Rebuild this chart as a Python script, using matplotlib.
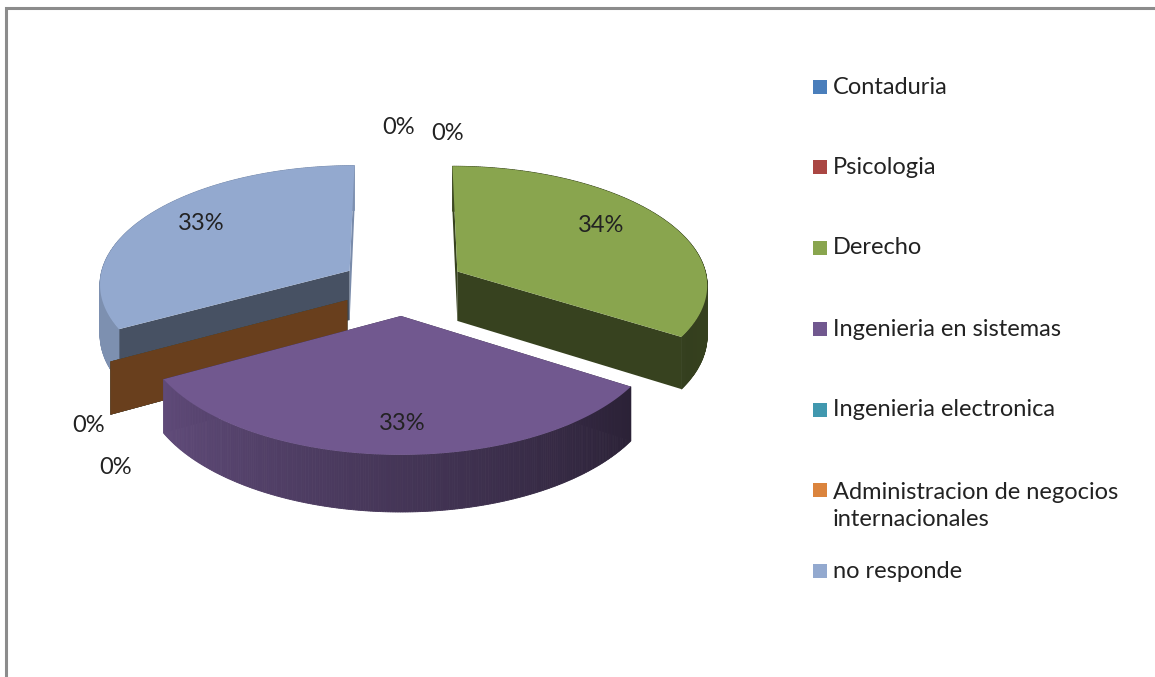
import numpy as np
import matplotlib
matplotlib.use("Agg")
import matplotlib.pyplot as plt
from matplotlib.colors import to_rgb

categories = ['Contaduria', 'Psicologia', 'Derecho', 'Ingenieria en sistemas',
              'Ingenieria electronica', 'Administracion de negocios\ninternacionales',
              'no responde']
values = [0, 0, 34, 33, 0, 0, 33]
colors = ['#4a7ebb', '#aa4643', '#89a54e', '#71588f', '#4198af', '#db843d', '#93a9cf']
wall_shade = [0.48, 0.48, 0.40, 0.40, 0.48, 0.48, 0.48]

# 3d look of the pie, fitted by eye
vx, vy = 403, 285.6
R, A, q = 251, 118.5, 0.10
explode = 0.25
depth = 50


def project(X, Y, low=False):
    s = 1 / (1 + q * Y)
    px = vx + R * X * s
    py = vy - A * Y * s
    if low:
        py = py + depth * s
    return px, py


fig = plt.figure(figsize=(11.55, 6.77), dpi=100)
ax = fig.add_axes([0, 0, 1, 1])
ax.set_xlim(0, 1155)
ax.set_ylim(677, 0)
ax.axis('off')
plt.rcParams['font.family'] = ['Lato', 'DejaVu Sans']

# frame of the pasted chart
ax.plot([6, 6, 1155], [677, 8, 8], color='#8c8c8c', lw=2.2, solid_joinstyle='miter')

angles = np.cumsum([0] + values) / sum(values) * 360
# outer wall shade at slice start and end
side_shade = {2: (0.45, 0.38), 3: (0.38, 0.85), 6: (0.85, 0.85)}
order = [6, 0, 1, 2, 4, 5, 3]
end_wall = {6: 0.82}

for i in order:
    a, b = np.radians(angles[i]), np.radians(angles[i + 1])
    mid = (a + b) / 2
    X0, Y0 = explode * np.sin(mid), explode * np.cos(mid)
    base = np.array(to_rgb(colors[i]))

    # the two cut faces
    for t, f in ((a, wall_shade[i]), (b, end_wall.get(i, wall_shade[i]))):
        X1, Y1 = X0 + np.sin(t), Y0 + np.cos(t)
        p1 = project(X0, Y0)
        p2 = project(X1, Y1)
        p3 = project(X1, Y1, True)
        p4 = project(X0, Y0, True)
        ax.fill([p1[0], p2[0], p3[0], p4[0]], [p1[1], p2[1], p3[1], p4[1]],
                color=base * f, lw=0)

    if values[i] == 0:
        continue

    # rim, cut in strips for the gradient
    th = np.linspace(a, b, 240)
    Xr, Yr = X0 + np.sin(th), Y0 + np.cos(th)
    xt, yt = project(Xr, Yr)
    xl, yl = project(Xr, Yr, True)
    f0, f1 = side_shade[i]
    for k in range(len(th) - 1):
        f = f0 + (f1 - f0) * k / (len(th) - 2)
        ax.fill([xt[k], xt[k + 1], xl[k + 1], xl[k]], [yt[k], yt[k + 1], yl[k + 1], yl[k]],
                color=base * f, lw=0.6)

    # top face
    ax0, ay0 = project(X0, Y0)
    ax.fill(np.r_[ax0, xt], np.r_[ay0, yt], color=colors[i], lw=0)

# data labels
labels = ['0%', '0%', '34%', '33%', '0%', '0%', '33%']
label_pos = [(399, 128), (448, 134), (601, 225), (402, 424), (116, 468), (89, 426), (201, 224)]
for lab, pos in zip(labels, label_pos):
    ax.text(pos[0], pos[1], lab, fontsize=17, color='#222222', ha='center', va='center')

# legend
legend_y = [87, 167, 248, 329, 410, 506, 571]
for name, col, y in zip(categories, colors, legend_y):
    sq_y = y if '\n' not in name else y - 16
    ax.fill([813, 827, 827, 813], [sq_y - 7, sq_y - 7, sq_y + 7, sq_y + 7], color=col, lw=0)
    ax.text(833, y, name, fontsize=17, color='#222222', ha='left', va='center', linespacing=1.3)

fig.savefig('out.png', dpi=100)
